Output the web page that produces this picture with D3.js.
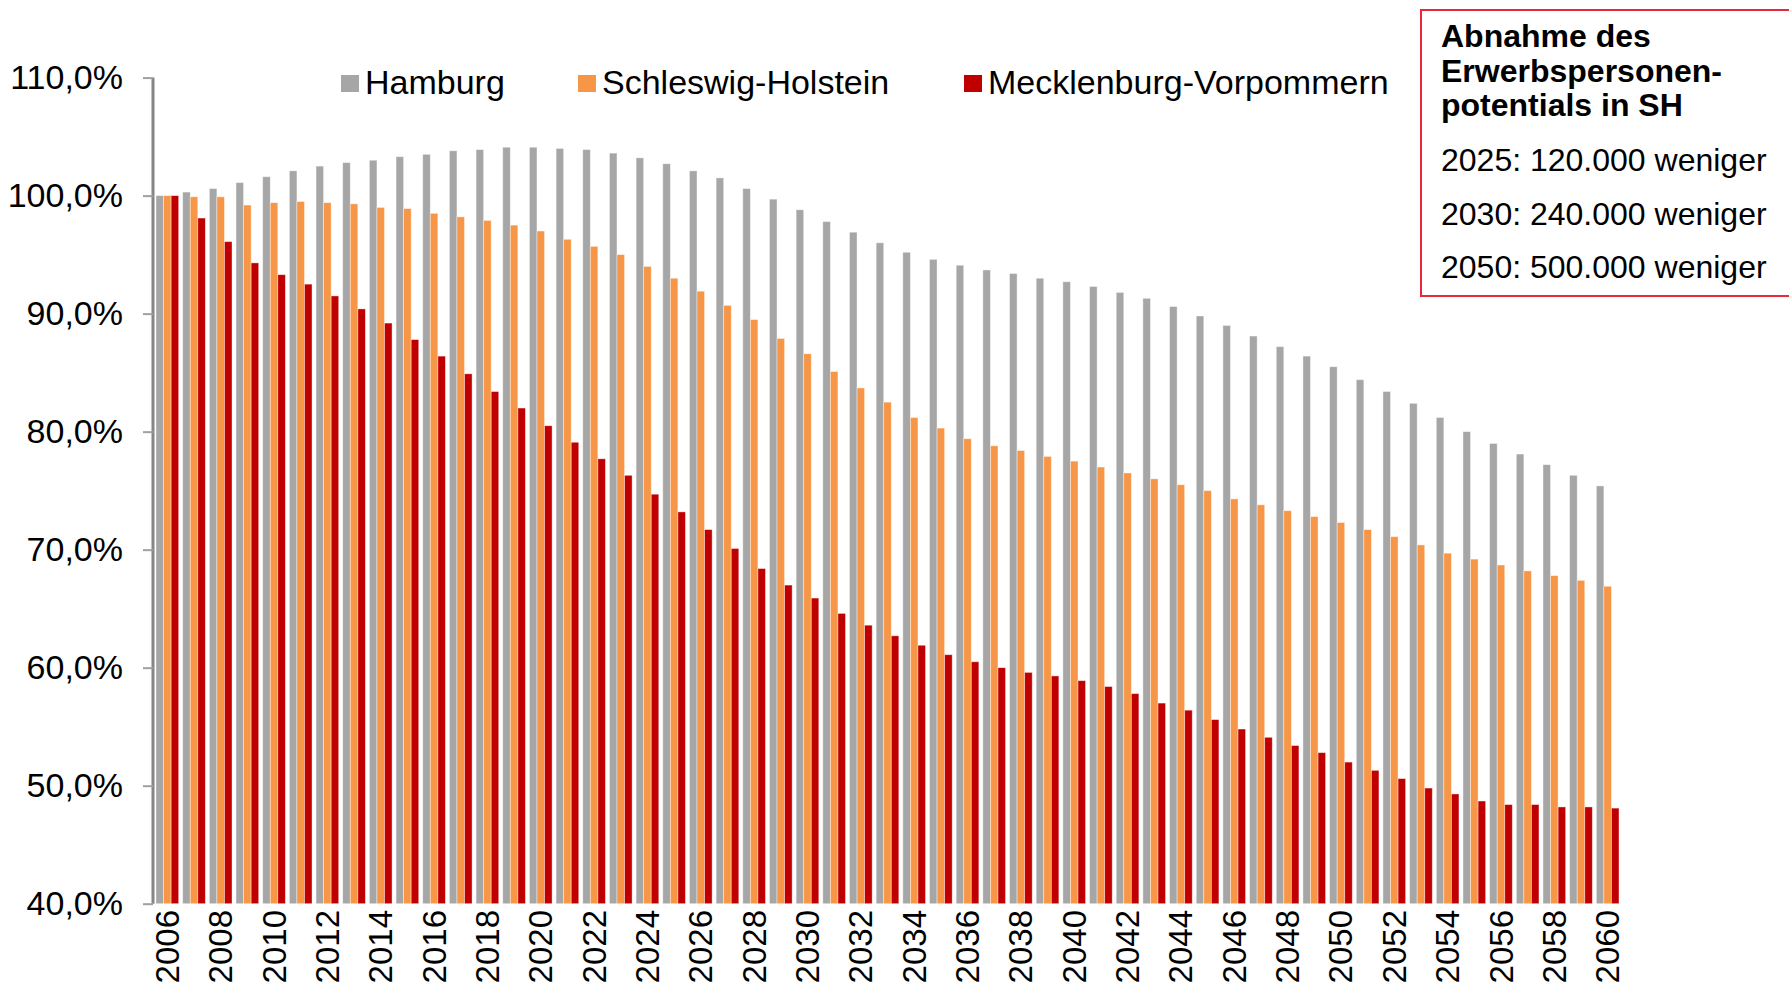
<!DOCTYPE html>
<html>
<head>
<meta charset="utf-8">
<script src="https://cdn.jsdelivr.net/npm/d3@7"></script>
<style>
  body { margin: 0; background: #fff; }
  svg { display: block; font-family: "Liberation Sans", Arial, sans-serif; }
</style>
</head>
<body>
<svg id="svg" width="1789" height="989"></svg>
<script>
// years 2006..2060
const years = d3.range(2006, 2061);

const seriesNames = ['Hamburg', 'Schleswig-Holstein', 'Mecklenburg-Vorpommern'];
const seriesColors = ['#A6A6A6', '#F79646', '#C00000'];

const hamburg = [
    100.0, 100.3, 100.6, 101.1, 101.6, 102.1, 102.5, 102.8, 103.0, 103.3,
    103.5, 103.8, 103.9, 104.1, 104.1, 104.0, 103.9, 103.6, 103.2, 102.7,
    102.1, 101.5, 100.6, 99.7, 98.8, 97.8, 96.9, 96.0, 95.2, 94.6,
    94.1, 93.7, 93.4, 93.0, 92.7, 92.3, 91.8, 91.3, 90.6, 89.8,
    89.0, 88.1, 87.2, 86.4, 85.5, 84.4, 83.4, 82.4, 81.2, 80.0,
    79.0, 78.1, 77.2, 76.3, 75.4
];
const schleswigHolstein = [
    100.0, 99.9, 99.9, 99.2, 99.4, 99.5, 99.4, 99.3, 99.0, 98.9,
    98.5, 98.2, 97.9, 97.5, 97.0, 96.3, 95.7, 95.0, 94.0, 93.0,
    91.9, 90.7, 89.5, 87.9, 86.6, 85.1, 83.7, 82.5, 81.2, 80.3,
    79.4, 78.8, 78.4, 77.9, 77.5, 77.0, 76.5, 76.0, 75.5, 75.0,
    74.3, 73.8, 73.3, 72.8, 72.3, 71.7, 71.1, 70.4, 69.7, 69.2,
    68.7, 68.2, 67.8, 67.4, 66.9
];
const mecklenburgVorpommern = [
    100.0, 98.1, 96.1, 94.3, 93.3, 92.5, 91.5, 90.4, 89.2, 87.8,
    86.4, 84.9, 83.4, 82.0, 80.5, 79.1, 77.7, 76.3, 74.7, 73.2,
    71.7, 70.1, 68.4, 67.0, 65.9, 64.6, 63.6, 62.7, 61.9, 61.1,
    60.5, 60.0, 59.6, 59.3, 58.9, 58.4, 57.8, 57.0, 56.4, 55.6,
    54.8, 54.1, 53.4, 52.8, 52.0, 51.3, 50.6, 49.8, 49.3, 48.7,
    48.4, 48.4, 48.2, 48.2, 48.1
];
const seriesValues = [hamburg, schleswigHolstein, mecklenburgVorpommern];

const yTicks = [40, 50, 60, 70, 80, 90, 100, 110];
const xTickYears = years.filter(y => (y - 2006) % 2 === 0);

const boxTitle = ['Abnahme des', 'Erwerbspersonen-', 'potentials in SH'];
const boxLines = ['2025: 120.000 weniger', '2030: 240.000 weniger', '2050: 500.000 weniger'];

const svg = d3.select('#svg');
const fmt = v => d3.format('.1f')(v).replace('.', ',') + '%';

const x = d3.scaleBand().domain(years).range([154, 1621]).paddingInner(0.15).paddingOuter(0.075);
const xs = d3.scaleBand().domain(seriesNames).range([0, x.bandwidth()]);
const y = d3.scaleLinear().domain([40, 110]).range([903.7, 77.6]);

// bars
const rows = years.map((yr, i) => ({ year: yr, vals: seriesNames.map((s, k) => ({ s, k, v: seriesValues[k][i] })) }));
svg.append('g')
    .selectAll('g')
    .data(rows)
    .join('g')
    .attr('transform', d => `translate(${x(d.year)},0)`)
    .selectAll('rect')
    .data(d => d.vals)
    .join('rect')
    .attr('x', d => xs(d.s))
    .attr('width', xs.bandwidth())
    .attr('y', d => y(d.v))
    .attr('height', d => y(40) - y(d.v))
    .attr('fill', d => seriesColors[d.k])
    .attr('stroke', '#fff')
    .attr('stroke-width', 0.8)
    .attr('stroke-opacity', 0.5);

// y axis
const yAxis = svg.append('g')
    .attr('transform', 'translate(153,0)')
    .call(d3.axisLeft(y).tickValues(yTicks).tickFormat(fmt).tickSize(10).tickPadding(20));
yAxis.select('.domain').attr('stroke', '#868686').attr('stroke-width', 3)
    .attr('d', `M0,${y(110)}V${y(40)}`);
yAxis.selectAll('.tick line').attr('stroke', '#A0A0A0').attr('stroke-width', 2);
yAxis.selectAll('.tick text').attr('fill', '#000').attr('font-size', 34)
    .attr('font-family', '"Liberation Sans", Arial, sans-serif');

// x labels
svg.append('g')
    .selectAll('text')
    .data(xTickYears)
    .join('text')
    .attr('transform', d => `translate(${x(d) + x.bandwidth() / 2},910) rotate(-90)`)
    .attr('dy', '0.35em')
    .attr('text-anchor', 'end')
    .attr('font-size', 33)
    .attr('fill', '#000')
    .text(d => d);

// legend
const legendX = [341, 578, 964];
const legend = svg.append('g')
    .selectAll('g')
    .data(seriesNames)
    .join('g')
    .attr('transform', (d, i) => `translate(${legendX[i]},0)`);
legend.append('rect').attr('x', 0).attr('y', 75).attr('width', 18).attr('height', 17)
    .attr('fill', (d, i) => seriesColors[i]);
legend.append('text').attr('x', 24).attr('y', 94).attr('font-size', 34).attr('fill', '#000').text(d => d);

// annotation box
const box = svg.append('g');
box.append('rect').attr('x', 1421).attr('y', 10).attr('width', 400).attr('height', 286)
    .attr('fill', '#fff').attr('stroke', '#E8283C').attr('stroke-width', 2);
box.selectAll('text.title')
    .data(boxTitle)
    .join('text')
    .attr('class', 'title')
    .attr('x', 1441)
    .attr('y', (d, i) => 47 + i * 34.5)
    .attr('font-size', 32)
    .attr('font-weight', 'bold')
    .attr('fill', '#000')
    .text(d => d);
box.selectAll('text.line')
    .data(boxLines)
    .join('text')
    .attr('class', 'line')
    .attr('x', 1441)
    .attr('y', (d, i) => 171 + i * 53.5)
    .attr('font-size', 32)
    .attr('fill', '#000')
    .text(d => d);
</script>
</body>
</html>
